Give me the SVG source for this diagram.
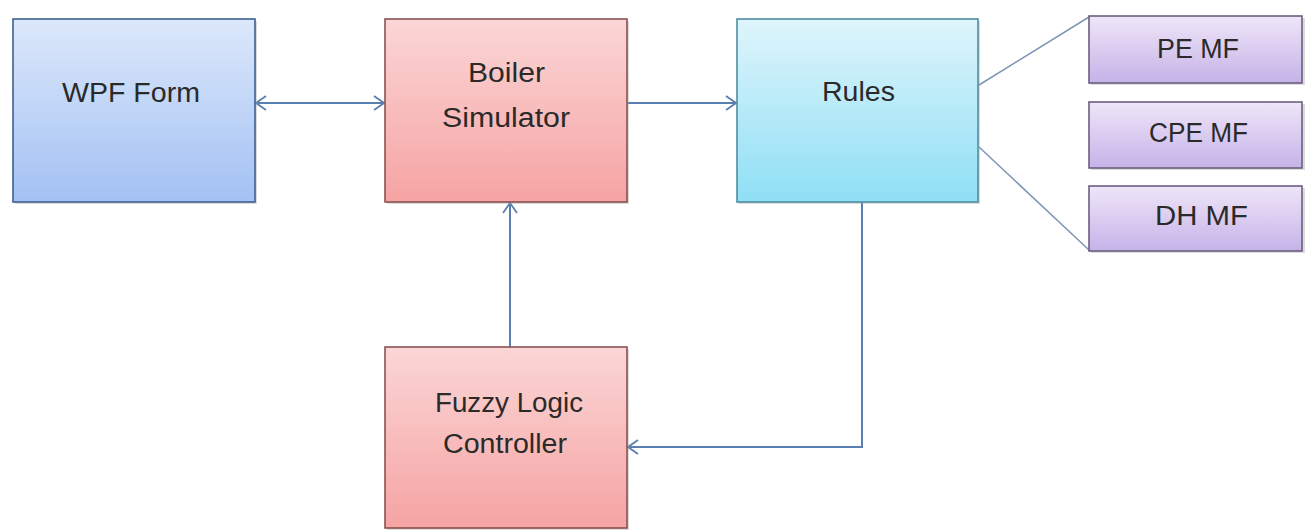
<svg xmlns="http://www.w3.org/2000/svg" width="1305" height="531" viewBox="0 0 1305 531">
  <defs>
    <linearGradient id="gBlue" x1="0" y1="0" x2="0" y2="1">
      <stop offset="0" stop-color="#dce8fb"/>
      <stop offset="1" stop-color="#a3c1f3"/>
    </linearGradient>
    <linearGradient id="gRed" x1="0" y1="0" x2="0" y2="1">
      <stop offset="0" stop-color="#fbd6d6"/>
      <stop offset="1" stop-color="#f6a3a3"/>
    </linearGradient>
    <linearGradient id="gCyan" x1="0" y1="0" x2="0" y2="1">
      <stop offset="0" stop-color="#dff5fc"/>
      <stop offset="1" stop-color="#8fdff5"/>
    </linearGradient>
    <linearGradient id="gPurple" x1="0" y1="0" x2="0" y2="1">
      <stop offset="0" stop-color="#efe6f8"/>
      <stop offset="1" stop-color="#c6b2e8"/>
    </linearGradient>
    <marker id="arrow" viewBox="0 0 12 16" refX="11" refY="8" markerWidth="12" markerHeight="16" markerUnits="userSpaceOnUse" orient="auto-start-reverse">
      <path d="M1,1 L11,8 L1,15" fill="none" stroke="#5b7fb0" stroke-width="1.8"/>
    </marker>
  </defs>
  <style>
    .shadow { fill: #9a9a9a; opacity: 0.35; }
    .box { stroke-width: 1.6; }
    .blue { fill: url(#gBlue); stroke: #3f5f8e; }
    .red { fill: url(#gRed); stroke: #8a5252; }
    .cyan { fill: url(#gCyan); stroke: #4f8ea0; }
    .purple { fill: url(#gPurple); stroke: #6b5f80; }
    .label { font-family: "Liberation Sans", Arial, sans-serif; font-size: 27px; fill: #2a2a2a; }
    .conn { fill: none; stroke: #5b7fb0; stroke-width: 2; }
    .plain { fill: none; stroke: #7f95b5; stroke-width: 1.5; }
  </style>

  <!-- connectors -->
  <g id="connectors">
    <line class="conn" x1="256" y1="103" x2="384" y2="103" marker-start="url(#arrow)" marker-end="url(#arrow)"/>
    <line class="conn" x1="628" y1="103" x2="736" y2="103" marker-end="url(#arrow)"/>
    <line class="conn" x1="510" y1="347" x2="510" y2="203" marker-end="url(#arrow)"/>
    <polyline class="conn" points="862,202 862,447 628,447" marker-end="url(#arrow)"/>
    <line class="plain" x1="979" y1="85" x2="1089" y2="17"/>
    <line class="plain" x1="979" y1="147" x2="1089" y2="250"/>
  </g>

  <g id="wpf-form">
    <rect class="shadow" x="15" y="21" width="242" height="183"/>
    <rect class="box blue" x="13" y="19" width="242" height="183"/>
    <text class="label" x="62" y="102" textLength="138" lengthAdjust="spacingAndGlyphs">WPF Form</text>
  </g>

  <g id="boiler-simulator">
    <rect class="shadow" x="387" y="21" width="242" height="183"/>
    <rect class="box red" x="385" y="19" width="242" height="183"/>
    <text class="label" x="468" y="82" textLength="77" lengthAdjust="spacingAndGlyphs">Boiler</text>
    <text class="label" x="442" y="127" textLength="128" lengthAdjust="spacingAndGlyphs">Simulator</text>
  </g>

  <g id="rules">
    <rect class="shadow" x="739" y="21" width="241" height="183"/>
    <rect class="box cyan" x="737" y="19" width="241" height="183"/>
    <text class="label" x="822" y="101" textLength="73" lengthAdjust="spacingAndGlyphs">Rules</text>
  </g>

  <g id="fuzzy-logic-controller">
    <rect class="shadow" x="387" y="349" width="242" height="181"/>
    <rect class="box red" x="385" y="347" width="242" height="181"/>
    <text class="label" x="435" y="412" textLength="148" lengthAdjust="spacingAndGlyphs">Fuzzy Logic</text>
    <text class="label" x="443" y="453" textLength="124" lengthAdjust="spacingAndGlyphs">Controller</text>
  </g>

  <g id="pe-mf">
    <rect class="shadow" x="1091" y="18" width="214" height="67"/>
    <rect class="box purple" x="1089" y="16" width="213" height="67"/>
    <text class="label" x="1157" y="58" textLength="82" lengthAdjust="spacingAndGlyphs">PE MF</text>
  </g>

  <g id="cpe-mf">
    <rect class="shadow" x="1091" y="104" width="214" height="66"/>
    <rect class="box purple" x="1089" y="102" width="213" height="66"/>
    <text class="label" x="1149" y="142" textLength="99" lengthAdjust="spacingAndGlyphs">CPE MF</text>
  </g>

  <g id="dh-mf">
    <rect class="shadow" x="1091" y="188" width="214" height="65"/>
    <rect class="box purple" x="1089" y="186" width="213" height="65"/>
    <text class="label" x="1155" y="225" textLength="93" lengthAdjust="spacingAndGlyphs">DH MF</text>
  </g>
</svg>
